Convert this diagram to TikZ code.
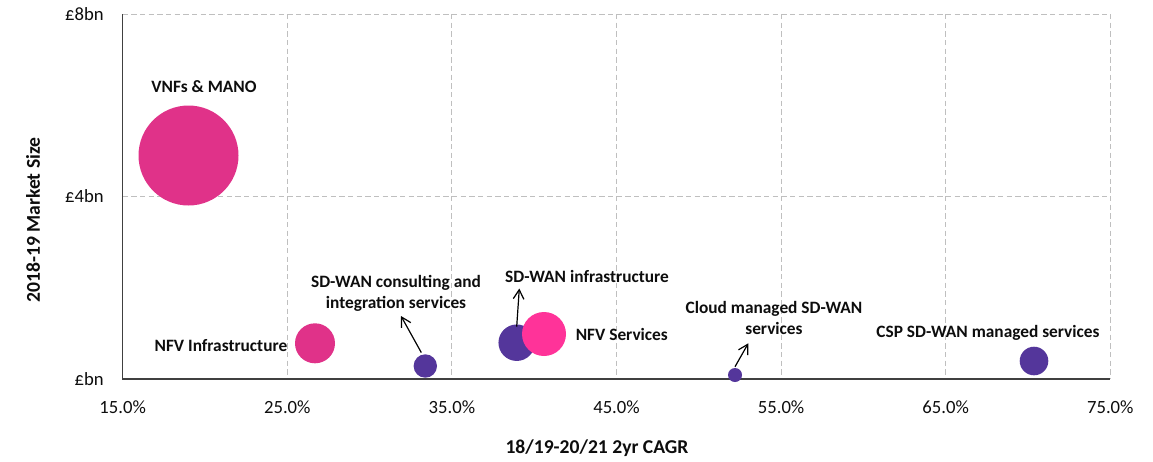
\documentclass[tikz,border=0pt]{standalone}
\usepackage{fontspec}
\setmainfont{Carlito}
\usetikzlibrary{arrows.meta}
\definecolor{pinkA}{RGB}{224,50,137}
\definecolor{pinkB}{RGB}{255,51,153}
\definecolor{purp}{RGB}{84,54,155}
\definecolor{gridc}{RGB}{191,191,191}
\definecolor{axisc}{RGB}{64,64,64}
\definecolor{txt}{RGB}{13,13,13}
\tikzset{
  bub/.style={circle,inner sep=0pt,draw=none},
  lbl/.style={font=\fontsize{13}{15.5}\selectfont\bfseries,text=txt,inner sep=0pt,align=center},
  tick/.style={font=\fontsize{14}{16}\selectfont,text=txt,inner sep=0pt},
  ttl/.style={font=\fontsize{14.7}{17}\selectfont\bfseries,text=txt,inner sep=0pt},
  grid/.style={draw=gridc,dashed,line width=0.75pt,dash pattern=on 4pt off 2.5pt},
  ptr/.style={draw=black,line width=0.9pt,-{Straight Barb[length=7pt,width=8pt]}}
}
\begin{document}
\begin{tikzpicture}[x=0.75pt,y=-0.75pt]
\useasboundingbox (0,0) rectangle (1153,461);
% grid
\foreach \gx in {287.3,451.9,616.5,781.1,945.7,1110.3} {\draw[grid] (\gx,14) -- (\gx,379);}
\draw[grid] (122.7,14) -- (1110.3,14);
\draw[grid] (122.7,196.5) -- (1110.3,196.5);
% axes
\draw[axisc,line width=0.9pt] (122.7,14) -- (122.7,379) -- (1110.3,379);
% tick labels
\node[tick,anchor=east] (y8) at (104,14) {£8bn};
\node[tick,anchor=east] (y4) at (104,196.5) {£4bn};
\node[tick,anchor=east] (y0) at (104,379) {£bn};
\node[tick] (x15) at (122.7,407) {15.0\%};
\node[tick] (x25) at (287.3,407) {25.0\%};
\node[tick] (x35) at (451.9,407) {35.0\%};
\node[tick] (x45) at (616.5,407) {45.0\%};
\node[tick] (x55) at (781.1,407) {55.0\%};
\node[tick] (x65) at (945.7,407) {65.0\%};
\node[tick] (x75) at (1110.3,407) {75.0\%};
% titles
\node[ttl] (xt) at (597,448) {18/19-20/21 2yr CAGR};
\node[ttl,rotate=90] (yt) at (33,220) {2018-19 Market Size};
% bubbles
\node[bub,fill=pinkA,minimum size=100pt*0.75] (vnf) at (188.5,155.5) {};
\node[bub,fill=pinkA,minimum size=40pt*0.75] (nfvi) at (315,343.3) {};
\node[bub,fill=purp,minimum size=23.4pt*0.75] (sdc) at (425.3,366) {};
\node[bub,fill=purp,minimum size=36.5pt*0.75] (sdi) at (516.7,342.7) {};
\node[bub,fill=pinkB,minimum size=44pt*0.75] (nfvs) at (544,334) {};
\node[bub,fill=purp,minimum size=14pt*0.75] (cld) at (735,375) {};
\node[bub,fill=purp,minimum size=28.6pt*0.75] (csp) at (1034,361) {};
% labels
\node[lbl] (lvnf) at (204,87) {VNFs \& MANO};
\node[lbl,anchor=east] (lnfvi) at (287.5,346) {NFV Infrastructure};
\node[lbl] (lsdc) at (396,293.5) {SD-WAN consulting and\\integration services};
\node[lbl] (lsdi) at (587,276) {SD-WAN infrastructure};
\node[lbl,anchor=west] (lnfvs) at (575.5,334.5) {NFV Services};
\node[lbl] (lcld) at (774,318) {Cloud managed SD-WAN\\services};
\node[lbl] (lcsp) at (988,333) {CSP SD-WAN managed services};
% pointers
\coordinate (esdc) at (401,316);
\coordinate (esdi) at (519.3,288.5);
\coordinate (ecld) at (748.3,343.3);
\draw[ptr] (sdc.north) ++(-4,-1.5) -- (esdc);
\draw[ptr] (sdi.center) ++(0,-16) -- (esdi);
\draw[ptr] (cld.north) ++(0,-1) -- (ecld);
\end{tikzpicture}
\end{document}
